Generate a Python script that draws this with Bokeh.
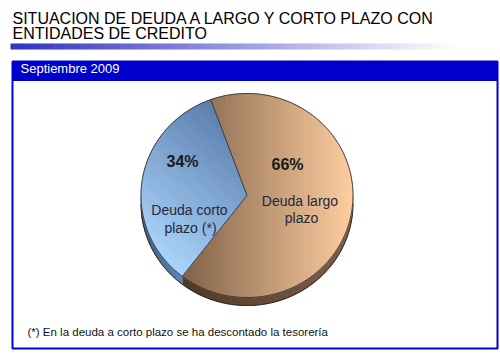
import numpy as np
from bokeh.plotting import figure
from bokeh.models import Range1d
from bokeh.core.properties import value
from bokeh.embed import file_html
from bokeh.resources import INLINE

# ---------------- data ----------------
title_lines = ["SITUACION DE DEUDA A LARGO Y CORTO PLAZO CON", "ENTIDADES DE CREDITO"]
period = "Septiembre 2009"
categories = ["Deuda corto plazo (*)", "Deuda largo plazo"]
values = [34, 66]
pct_labels = ["34%", "66%"]
category_lines = [["Deuda corto", "plazo (*)"], ["Deuda largo", "plazo"]]
footnote = "(*) En la deuda a corto plazo se ha descontado la tesorería"

# ---------------- styling / layout ----------------
W, H = 500, 364
FONT = value("Liberation Sans")
TY = -3.5   # baseline correction for svg text
cx, cy, rx, ry, depth = 246.5, 195.0, 106.0, 102.0, 8.0
start_deg = -20.0           # clockwise from 12 o'clock
draw_order = [1, 0]         # largo first (clockwise), then corto
grad_dirs = {0: (-87.0, 110.0), 1: (1.0, 0.0)}
grad_cols = {0: ("#5a7dac", "#abd4fc"), 1: ("#80624a", "#ffcea0")}
rim_cols = {0: ("#3e5d86", "#5f86b4"), 1: ("#4e3828", "#80604a")}
pct_pos = {0: (182, 164), 1: (287, 167)}
lab_pos = {0: [(189, 213), (190, 230.5)], 1: [(299.5, 204), (301, 221)]}

p = figure(width=W, height=H, x_range=Range1d(0, W), y_range=Range1d(H, 0),
           output_backend="svg", toolbar_location=None, min_border=0,
           x_axis_location=None, y_axis_location=None)
p.grid.visible = False
p.outline_line_color = None
p.background_fill_color = "white"
p.border_fill_color = "white"


def hex2rgb(h):
    h = h.lstrip("#")
    return np.array([int(h[i:i + 2], 16) for i in (0, 2, 4)], dtype=float)


def mix(c0, c1, t):
    a, b = hex2rgb(c0), hex2rgb(c1)
    c = a + (b - a) * t
    return "#%02x%02x%02x" % tuple(int(round(v)) for v in c)


def pt(a_deg, dy=0.0):
    a = np.radians(a_deg)
    return cx + rx * np.sin(a), cy - ry * np.cos(a) + dy


def clip(poly, n, c):
    out = []
    m = len(poly)
    for i in range(m):
        P, Q = poly[i], poly[(i + 1) % m]
        dp = n[0] * P[0] + n[1] * P[1] - c
        dq = n[0] * Q[0] + n[1] * Q[1] - c
        if dp >= 0:
            out.append(P)
        if (dp >= 0) != (dq >= 0):
            t = dp / (dp - dq)
            out.append((P[0] + (Q[0] - P[0]) * t, P[1] + (Q[1] - P[1]) * t))
    return out


def strips(poly, d, c0, c1, n=70):
    d = np.array(d) / np.hypot(*d)
    proj = [d[0] * x + d[1] * y for x, y in poly]
    tmin, tmax = min(proj), max(proj)
    xs, ys, cols = [], [], []
    for k in range(n):
        t0 = tmin + (tmax - tmin) * k / n
        t1 = tmin + (tmax - tmin) * (k + 1) / n + 0.6
        q = clip(poly, d, t0)
        if q:
            q = clip(q, -d, -t1)
        if len(q) >= 3:
            xs.append([a for a, _ in q])
            ys.append([b for _, b in q])
            cols.append(mix(c0, c1, (k + 0.5) / n))
    return xs, ys, cols


# ---------------- title + gradient bar ----------------
p.text(x=[12, 12], y=[21 + TY, 36.5 + TY], text=title_lines, text_font=FONT, text_font_size="16px",
       text_color="#000000", text_baseline="alphabetic", text_align="left")
nb = 120
bx = np.linspace(10, 457, nb + 1)
p.quad(left=bx[:-1], right=bx[1:] + 0.5, top=[43] * nb, bottom=[49] * nb,
       fill_color=[mix("#3030c0", "#ffffff", (i + 0.5) / nb) for i in range(nb)],
       line_color=None)

# ---------------- frame ----------------
p.quad(left=[12], right=[497], top=[61], bottom=[80], fill_color="#0000cc", line_color="#0000cc")
p.quad(left=[12], right=[497], top=[61], bottom=[348], fill_color=None,
       line_color="#0000cc", line_width=2)
p.text(x=[20], y=[71 + TY], text=[period], text_font=FONT, text_font_size="13px",
       text_color="white", text_baseline="alphabetic")

# ---------------- pie ----------------
total = float(sum(values))
bounds = {}
a = start_deg
for i in draw_order:
    span = 360.0 * values[i] / total
    bounds[i] = (a, a + span)
    a += span

# rim (3D edge) for lower half
for i in draw_order:
    a0, a1 = bounds[i]
    for off in (0.0, 360.0, -360.0):
        lo, hi = max(a0 + off, 90.0), min(a1 + off, 270.0)
        if hi > lo:
            angs = np.linspace(lo, hi, 80)
            top = [pt(t) for t in angs]
            bot = [pt(t, depth) for t in angs[::-1]]
            poly = top + bot
            xs, ys, cols = strips(poly, (-1.0, 0.0), rim_cols[i][1], rim_cols[i][0], n=30)
            p.patches(xs, ys, fill_color=cols, line_color=cols, line_width=0.5)
angs = np.linspace(90, 270, 120)
bx_, by_ = zip(*[pt(t, depth) for t in angs])
p.line(list(bx_), list(by_), line_color="#2e2418", line_width=1)

# faces with gradients
for i in draw_order:
    a0, a1 = bounds[i]
    angs = np.linspace(a0, a1, 160)
    poly = [(cx, cy)] + [pt(t) for t in angs]
    xs, ys, cols = strips(poly, grad_dirs[i], grad_cols[i][0], grad_cols[i][1])
    p.patches(xs, ys, fill_color=cols, line_color=cols, line_width=0.5)

# outlines
angs = np.linspace(0, 360, 361)
ox, oy = zip(*[pt(t) for t in angs])
p.line(list(ox), list(oy), line_color="#3a3a3a", line_width=1)
for i in draw_order:
    ex, ey = pt(bounds[i][0])
    p.line([cx, ex], [cy, ey], line_color="#3a3a3a", line_width=1)

# labels
p.text(x=[pct_pos[i][0] for i in range(2)], y=[pct_pos[i][1] + TY for i in range(2)],
       text=pct_labels, text_font=FONT, text_font_size="16px", text_font_style="bold",
       text_color="#1a1a1a", text_align="center", text_baseline="alphabetic")
lx, ly, lt = [], [], []
for i in range(2):
    for (x, y), t in zip(lab_pos[i], category_lines[i]):
        lx.append(x); ly.append(y + TY); lt.append(t)
p.text(x=lx, y=ly, text=lt, text_font=FONT, text_font_size="14px",
       text_color="#26283a", text_align="center", text_baseline="alphabetic")

# footnote
p.text(x=[27], y=[335 + TY], text=[footnote], text_font=FONT, text_font_size="11.5px",
       text_color="#111111", text_baseline="alphabetic")

open("out.html", "w").write(file_html(p, INLINE))
